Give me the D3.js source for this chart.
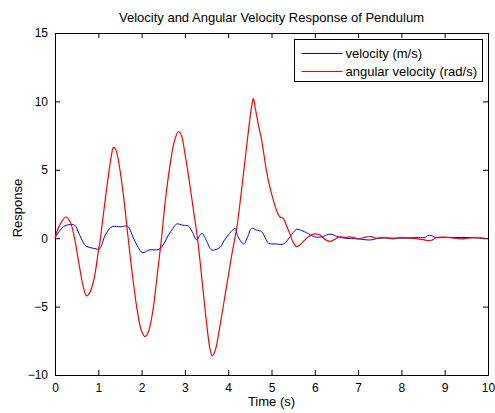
<!DOCTYPE html>
<html>
<head>
<meta charset="utf-8">
<script src="https://cdn.jsdelivr.net/npm/d3@7"></script>
<style>
	body { margin: 0; background: #fff; }
	text { font-family: "Liberation Sans", Arial, sans-serif; font-size: 13px; fill: #000; }
</style>
</head>
<body>
<svg id="chart" width="495" height="413"></svg>
<script>
// values
const velTime = [0, 0.1, 0.2, 0.28, 0.45, 0.55, 0.65, 0.71, 0.82, 0.95, 1.02, 1.08, 1.13, 1.2, 1.32, 1.52, 1.67, 1.72, 1.8, 1.9,
	2.02, 2.17, 2.4, 2.52, 2.62, 2.72, 2.81, 2.95, 3.08, 3.18, 3.27, 3.39, 3.5, 3.62, 3.81, 3.9, 4.0, 4.12, 4.16, 4.23,
	4.36, 4.45, 4.54, 4.65, 4.77, 4.85, 4.93, 5.1, 5.28, 5.43, 5.58, 5.7, 5.81, 6.0, 6.16, 6.35, 6.54, 6.7, 7.0, 7.27,
	7.5, 8.0, 8.4, 8.55, 8.6, 8.7, 8.75, 8.8, 9.0, 9.5, 9.9]
const velocity = [0, 0.5, 0.85, 0.96, 0.96, 0.36, -0.3, -0.57, -0.69, -0.78, -0.81, -0.5, 0, 0.45, 0.84, 0.84, 0.89, 0.7, 0.1, -0.55,
	-1.06, -0.86, -0.81, -0.37, 0.23, 0.7, 1.04, 0.95, 0.89, 0.4, -0.13, 0.36, -0.2, -0.86, -0.67, -0.2, 0.23, 0.65, 0.72, 0.1,
	-0.42, 0.1, 0.72, 0.6, 0.48, 0.05, -0.37, -0.42, -0.42, 0.1, 0.65, 0.55, 0.4, 0.1, 0.1, 0.3, 0.1, 0, -0.05, -0.13,
	0, 0, 0.05, 0.05, 0.18, 0.18, 0.1, 0.05, 0.05, 0.05, 0]

const angTime = [0, 0.1, 0.25, 0.35, 0.45, 0.55, 0.65, 0.73, 0.8, 0.9, 1.0, 1.05, 1.1, 1.2, 1.3, 1.35, 1.4, 1.5, 1.6, 1.69,
	1.8, 1.9, 2.0, 2.08, 2.15, 2.25, 2.35, 2.45, 2.55, 2.65, 2.75, 2.85, 2.92, 3.0, 3.1, 3.2, 3.29, 3.4, 3.5, 3.58,
	3.63, 3.7, 3.8, 3.9, 4.0, 4.1, 4.2, 4.3, 4.4, 4.5, 4.55, 4.58, 4.62, 4.69, 4.77, 4.88, 4.95, 5.04, 5.12, 5.19,
	5.27, 5.35, 5.42, 5.5, 5.58, 5.65, 5.73, 5.85, 5.97, 6.05, 6.12, 6.2, 6.3, 6.38, 6.45, 6.58, 6.7, 6.8, 6.9, 7.0,
	7.2, 7.3, 7.4, 7.6, 7.8, 8.0, 8.2, 8.5, 8.6, 8.7, 8.8, 9.0, 9.2, 9.4, 9.6, 9.9]
const angularVelocity = [0, 0.9, 1.55, 1.2, 0, -1.8, -3.5, -4.22, -4.0, -3.0, -1.0, 0, 1.3, 3.8, 6.0, 6.64, 6.5, 5.0, 2.6, 0,
	-3.0, -5.3, -6.8, -7.2, -6.9, -5.5, -3.0, -0.3, 2.8, 5.2, 7.0, 7.8, 7.5, 6.2, 4.2, 2.0, 0, -3.2, -6.2, -8.1,
	-8.6, -8.2, -6.6, -4.7, -2.8, -0.9, 0.8, 3.3, 6.0, 8.7, 9.8, 10.2, 9.6, 8.4, 7.2, 5.0, 3.9, 2.8, 2.0, 1.57,
	1.45, 0.9, 0.36, -0.3, -0.62, -0.5, -0.25, 0.1, 0.3, 0.3, 0.23, 0, -0.2, -0.22, -0.1, 0.1, 0.05, 0.1, 0.05, -0.05,
	0.1, 0.12, 0, 0.05, -0.05, 0.05, 0, -0.1, -0.18, -0.15, 0.05, 0.08, 0, -0.05, 0.03, 0]

const xTicks = [0, 1, 2, 3, 4, 5, 6, 7, 8, 9, 10]
const yTicks = [-10, -5, 0, 5, 10, 15]
const legendLabels = ["velocity (m/s)", "angular velocity (rad/s)"]
const seriesColors = ["#0000ff", "#ff0000"]

const margin = { top: 33, right: 7, bottom: 38, left: 55 }
const width = 495
const height = 413

const svg = d3.select("#chart")

const x = d3.scaleLinear().domain([0, 10]).range([margin.left, width - margin.right])
const y = d3.scaleLinear().domain([-10, 15]).range([height - margin.bottom, margin.top])

const tickLen = 5

// axes with inward ticks on every side
svg.append("g")
	.attr("transform", `translate(0,${y(-10)})`)
	.call(d3.axisBottom(x).tickValues(xTicks).tickSizeInner(-tickLen).tickSizeOuter(0).tickPadding(8))
svg.append("g")
	.attr("transform", `translate(0,${y(15)})`)
	.call(d3.axisTop(x).tickValues(xTicks).tickSizeInner(-tickLen).tickSizeOuter(0).tickFormat(""))
svg.append("g")
	.attr("transform", `translate(${x(0)},0)`)
	.call(d3.axisLeft(y).tickValues(yTicks).tickSizeInner(-tickLen).tickSizeOuter(0).tickPadding(7))
svg.append("g")
	.attr("transform", `translate(${x(10)},0)`)
	.call(d3.axisRight(y).tickValues(yTicks).tickSizeInner(-tickLen).tickSizeOuter(0).tickFormat(""))

svg.selectAll(".domain").attr("stroke", "#000")
svg.selectAll(".tick line").attr("stroke", "#000")
svg.selectAll(".tick text")
	.style("font-family", "'Liberation Sans', Arial, sans-serif")
	.style("font-size", "12px")
	.attr("fill", "#000")

// curves
const line = (times) => d3.line()
	.curve(d3.curveCatmullRom)
	.x((d, i) => x(times[i]))
	.y(d => y(d))

svg.append("path")
	.datum(velocity)
	.attr("d", line(velTime))
	.attr("fill", "none")
	.attr("stroke", seriesColors[0])
	.attr("stroke-width", 1)

svg.append("path")
	.datum(angularVelocity)
	.attr("d", line(angTime))
	.attr("fill", "none")
	.attr("stroke", seriesColors[1])
	.attr("stroke-width", 1.2)

// title and labels
svg.append("text")
	.attr("x", (x(0) + x(10)) / 2)
	.attr("y", 22)
	.attr("text-anchor", "middle")
	.text("Velocity and Angular Velocity Response of Pendulum")

svg.append("text")
	.attr("x", (x(0) + x(10)) / 2)
	.attr("y", 406)
	.attr("text-anchor", "middle")
	.text("Time (s)")

svg.append("text")
	.attr("transform", `translate(22,${(y(-10) + y(15)) / 2 + 4}) rotate(-90)`)
	.attr("text-anchor", "middle")
	.text("Response")

// legend
const legend = svg.append("g").attr("transform", "translate(294.5,39.5)")
legend.append("rect")
	.attr("width", 188)
	.attr("height", 42)
	.attr("fill", "#fff")
	.attr("stroke", "#000")

legendLabels.forEach((label, i) => {
	const row = legend.append("g").attr("transform", `translate(0,${14 + i * 18})`)
	row.append("line")
		.attr("x1", 7).attr("x2", 48)
		.attr("stroke", seriesColors[i])
	row.append("text")
		.attr("x", 51)
		.attr("dy", "0.35em")
		.text(label)
})
</script>
</body>
</html>
